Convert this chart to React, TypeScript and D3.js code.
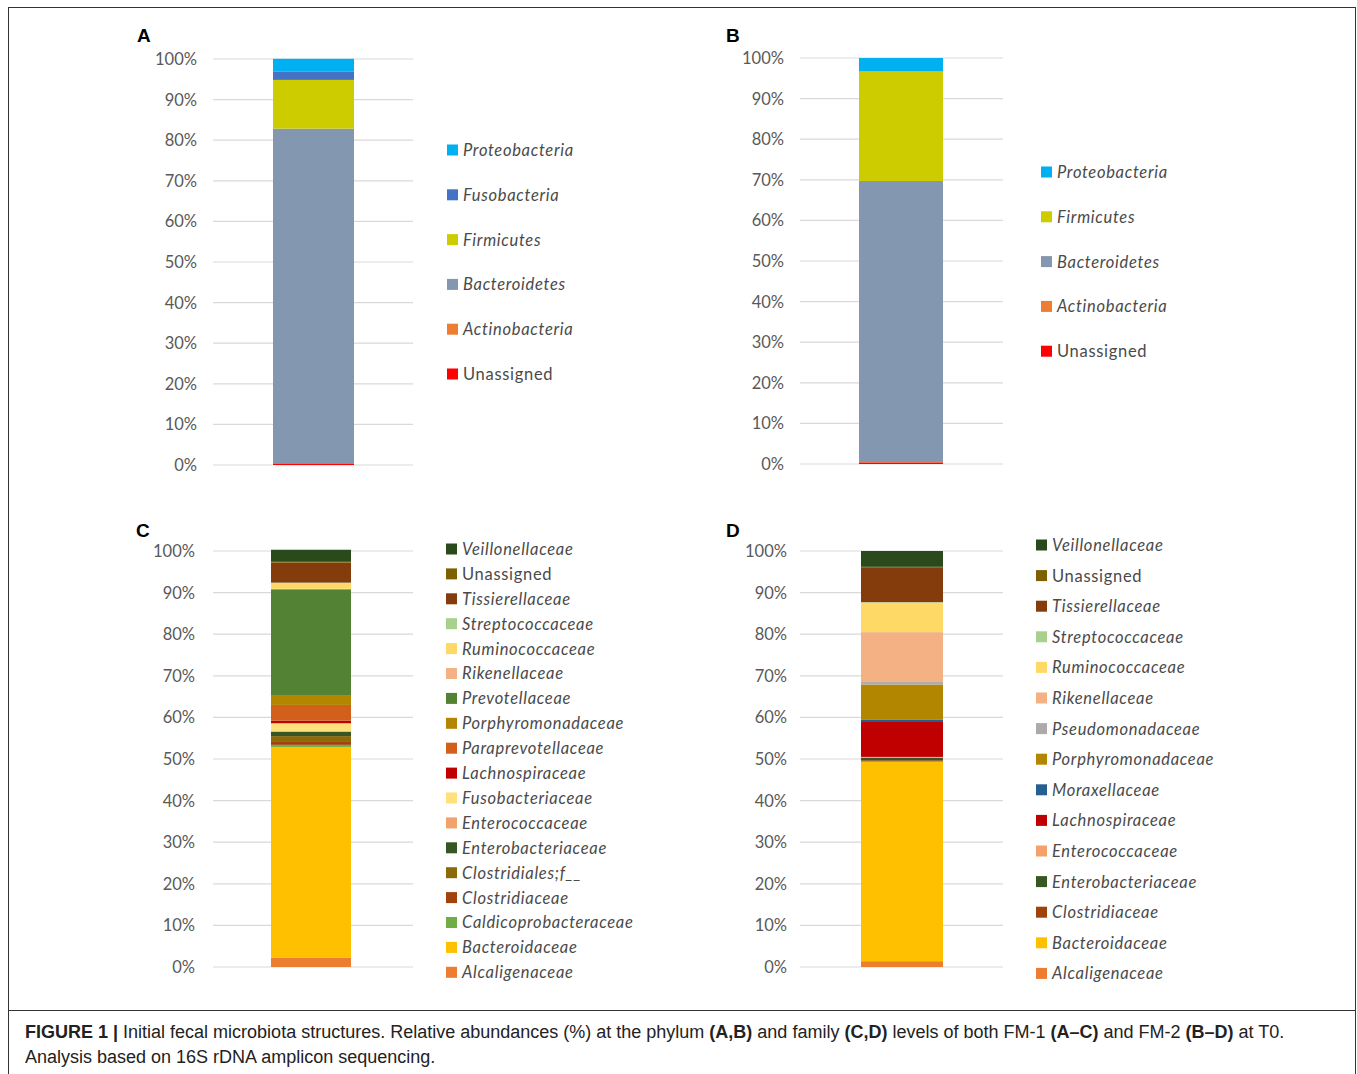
import React from "react";
import * as d3 from "d3";

// ---------- DATA ----------
// Panel A (phylum, FM-1) — legend order (top of bar first)
const phylaA = ["Proteobacteria", "Fusobacteria", "Firmicutes", "Bacteroidetes", "Actinobacteria", "Unassigned"];
const valuesA = [3.2, 2.0, 12.0, 82.4, 0.05, 0.4];

// Panel B (phylum, FM-2)
const phylaB = ["Proteobacteria", "Firmicutes", "Bacteroidetes", "Actinobacteria", "Unassigned"];
const valuesB = [3.3, 27.0, 69.2, 0.1, 0.4];

// Panel C (family, FM-1)
const familiesC = [
  "Veillonellaceae", "Unassigned", "Tissierellaceae", "Streptococcaceae", "Ruminococcaceae",
  "Rikenellaceae", "Prevotellaceae", "Porphyromonadaceae", "Paraprevotellaceae", "Lachnospiraceae",
  "Fusobacteriaceae", "Enterococcaceae", "Enterobacteriaceae", "Clostridiales;f__", "Clostridiaceae",
  "Caldicoprobacteraceae", "Bacteroidaceae", "Alcaligenaceae",
];
const valuesC = [2.9, 0.2, 4.8, 0.1, 1.4, 0.1, 25.6, 2.2, 3.8, 0.6, 1.9, 0.2, 1.0, 1.4, 0.7, 0.5, 50.7, 2.2];

// Panel D (family, FM-2)
const familiesD = [
  "Veillonellaceae", "Unassigned", "Tissierellaceae", "Streptococcaceae", "Ruminococcaceae",
  "Rikenellaceae", "Pseudomonadaceae", "Porphyromonadaceae", "Moraxellaceae", "Lachnospiraceae",
  "Enterococcaceae", "Enterobacteriaceae", "Clostridiaceae", "Bacteroidaceae", "Alcaligenaceae",
];
const valuesD = [3.8, 0.1, 8.4, 0.1, 7.1, 12.0, 0.6, 8.5, 0.3, 8.6, 0.2, 0.6, 0.3, 48.0, 1.4];

const yTicks = [0, 10, 20, 30, 40, 50, 60, 70, 80, 90, 100];

// ---------- STYLES ----------
const colorMap: Record<string, string> = {
  Proteobacteria: "#00b0f0",
  Fusobacteria: "#4472c4",
  Firmicutes: "#cccc00",
  Bacteroidetes: "#8497b0",
  Actinobacteria: "#ed7d31",
  Unassigned: "#ff0000",
};
const famColor: Record<string, string> = {
  Veillonellaceae: "#2b4a1c",
  Unassigned: "#7f6000",
  Tissierellaceae: "#843c0c",
  Streptococcaceae: "#a9d18e",
  Ruminococcaceae: "#ffd966",
  Rikenellaceae: "#f4b183",
  Prevotellaceae: "#548235",
  Pseudomonadaceae: "#aeaaaa",
  Porphyromonadaceae: "#b38600",
  Moraxellaceae: "#255e91",
  Paraprevotellaceae: "#d2601a",
  Lachnospiraceae: "#c00000",
  Fusobacteriaceae: "#ffe07a",
  Enterococcaceae: "#f4a26b",
  Enterobacteriaceae: "#375623",
  "Clostridiales;f__": "#8c6a08",
  Clostridiaceae: "#a0430a",
  Caldicoprobacteraceae: "#70ad47",
  Bacteroidaceae: "#ffc000",
  Alcaligenaceae: "#ed7d31",
};

const FONT = "Lato, 'Open Sans', sans-serif";

type PanelProps = {
  label: string;
  labelX: number;
  labelY: number;
  names: string[];
  values: number[];
  colors: Record<string, string>;
  y0: number;
  y100: number;
  tickRight: number;
  gridX0: number;
  gridX1: number;
  barX0: number;
  barX1: number;
  legX: number;
  legY0: number;
  legStep: number;
};

function Panel(p: PanelProps) {
  const y = d3.scaleLinear().domain([0, 100]).range([p.y0, p.y100]);
  const row: Record<string, number> = {};
  p.names.forEach((n, i) => (row[n] = p.values[i]));
  const keys = [...p.names].reverse();
  const stacked = d3.stack<Record<string, number>>().keys(keys)([row]);
  return (
    <g>
      <text x={p.labelX} y={p.labelY} fontFamily="'Liberation Sans', Arial, sans-serif" fontWeight="bold" fontSize={19} fill="#000">
        {p.label}
      </text>
      {yTicks.map((t) => (
        <g key={t}>
          <line x1={p.gridX0} x2={p.gridX1} y1={y(t)} y2={y(t)} stroke="#d9d9d9" strokeWidth={1.2} />
          <text x={p.tickRight} y={y(t)} dy="0.36em" textAnchor="end" fontFamily={FONT} fontSize={16.5} fill="#595959">
            {t}%
          </text>
        </g>
      ))}
      {stacked.map((s) => (
        <rect
          key={s.key}
          x={p.barX0}
          width={p.barX1 - p.barX0}
          y={y(s[0][1])}
          height={Math.max(0, y(s[0][0]) - y(s[0][1]))}
          fill={p.colors[s.key]}
        />
      ))}
      {p.names.map((n, i) => {
        const yy = p.legY0 + i * p.legStep;
        return (
          <g key={n}>
            <rect x={p.legX} y={yy - 5.5} width={11} height={11} fill={p.colors[n]} />
            <text
              x={p.legX + 16}
              y={yy}
              dy="0.36em"
              fontFamily={FONT}
              fontSize={16.5}
              letterSpacing={0.7}
              fontStyle={n === "Unassigned" ? "normal" : "italic"}
              fill="#4a4a4a"
            >
              {n}
            </text>
          </g>
        );
      })}
    </g>
  );
}

export default function App() {
  return (
    <svg width={1357} height={1074} style={{ position: "absolute", left: 0, top: 0, background: "#fff" }}>
      <rect x={8.5} y={7.5} width={1347} height={1080} fill="#fff" stroke="#333" strokeWidth={1} />
      <line x1={8.5} x2={1355.5} y1={1010.5} y2={1010.5} stroke="#333" strokeWidth={1} />

      <Panel
        label="A" labelX={137} labelY={42}
        names={phylaA} values={valuesA} colors={colorMap}
        y0={465} y100={59} tickRight={197} gridX0={213} gridX1={413}
        barX0={273} barX1={354} legX={447} legY0={150} legStep={44.8}
      />
      <Panel
        label="B" labelX={726} labelY={42}
        names={phylaB} values={valuesB} colors={colorMap}
        y0={464} y100={58} tickRight={784} gridX0={800} gridX1={1003}
        barX0={859} barX1={943} legX={1041} legY0={172} legStep={44.8}
      />
      <Panel
        label="C" labelX={136} labelY={537}
        names={familiesC} values={valuesC} colors={famColor}
        y0={967} y100={551} tickRight={195} gridX0={213} gridX1={413}
        barX0={271} barX1={351} legX={446} legY0={549} legStep={24.9}
      />
      <Panel
        label="D" labelX={726} labelY={537}
        names={familiesD} values={valuesD} colors={famColor}
        y0={967} y100={551} tickRight={787} gridX0={800} gridX1={1003}
        barX0={861} barX1={943} legX={1036} legY0={545} legStep={30.6}
      />

      <text x={25} y={1038} fontFamily="'Liberation Sans', Arial, sans-serif" fontSize={18} fill="#222">
        <tspan fontWeight="bold">FIGURE 1 | </tspan>
        <tspan>Initial fecal microbiota structures. Relative abundances (%) at the phylum </tspan>
        <tspan fontWeight="bold">(A,B)</tspan>
        <tspan> and family </tspan>
        <tspan fontWeight="bold">(C,D)</tspan>
        <tspan> levels of both FM-1 </tspan>
        <tspan fontWeight="bold">(A–C)</tspan>
        <tspan> and FM-2 </tspan>
        <tspan fontWeight="bold">(B–D)</tspan>
        <tspan> at T0.</tspan>
      </text>
      <text x={25} y={1063} fontFamily="'Liberation Sans', Arial, sans-serif" fontSize={18} fill="#222">
        Analysis based on 16S rDNA amplicon sequencing.
      </text>
    </svg>
  );
}
